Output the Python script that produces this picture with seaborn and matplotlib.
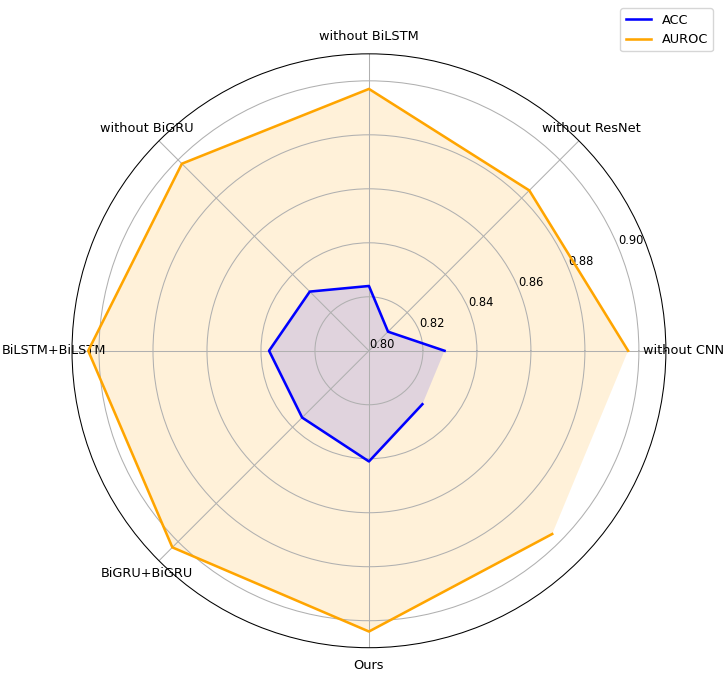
import numpy as np
import matplotlib
matplotlib.use("Agg")
import matplotlib.pyplot as plt
import seaborn as sns
from matplotlib.lines import Line2D

categories = ["without CNN", "without ResNet", "without BiLSTM", "without BiGRU",
              "BiLSTM+BiLSTM", "BiGRU+BiGRU", "Ours"]
acc = [0.828, 0.810, 0.824, 0.831, 0.837, 0.835, 0.841]
auroc = [0.896, 0.884, 0.897, 0.898, 0.904, 0.903, 0.904]
r_ticks = [0.80, 0.82, 0.84, 0.86, 0.88, 0.90]
r_labels = ["0.80", "0.82", "0.84", "0.86", "0.88", "0.90"]

sns.reset_orig()
plt.rcParams['font.family'] = ['DejaVu Sans']

n = len(categories)
# original chart: 8 evenly spaced angles for 7 categories + repeated first value
angles = np.linspace(0, 2 * np.pi, n + 1, endpoint=False)
acc_c = acc + [acc[0]]
auroc_c = auroc + [auroc[0]]

fig = plt.figure(figsize=(7.26, 6.73), dpi=100)
ax = fig.add_axes([0.0992, 0.0375, 0.818, 0.8826], projection="polar")

lw = 1.85
ax.fill(angles, auroc_c, color="orange", alpha=0.15, linewidth=0)
sns.lineplot(x=angles, y=auroc_c, ax=ax, sort=False, color="orange", linewidth=lw, estimator=None)
ax.fill(angles, acc_c, color="blue", alpha=0.12, linewidth=0)
sns.lineplot(x=angles, y=acc_c, ax=ax, sort=False, color="blue", linewidth=lw, estimator=None)

ax.set_ylim(0.80, 0.91)
ax.set_yticks(r_ticks)
ax.set_yticklabels(r_labels, fontsize=8.3)
ax.set_thetagrids(np.degrees(angles[:n]), categories, fontsize=9.25)
ax.tick_params(axis="x", pad=2.3)
ax.set_xlabel("")
ax.set_ylabel("")
ax.set_axisbelow("line")
ax.grid(True, color="#b0b0b0", linewidth=0.75)
ax.spines["polar"].set_color("black")
ax.spines["polar"].set_linewidth(0.75)

handles = [Line2D([], [], color="blue", linewidth=lw),
           Line2D([], [], color="orange", linewidth=lw)]
fig.legend(handles, ["ACC", "AUROC"], loc="upper right",
           bbox_to_anchor=(0.991, 0.997), fontsize=9.25)

fig.savefig("out.png", dpi=100)
